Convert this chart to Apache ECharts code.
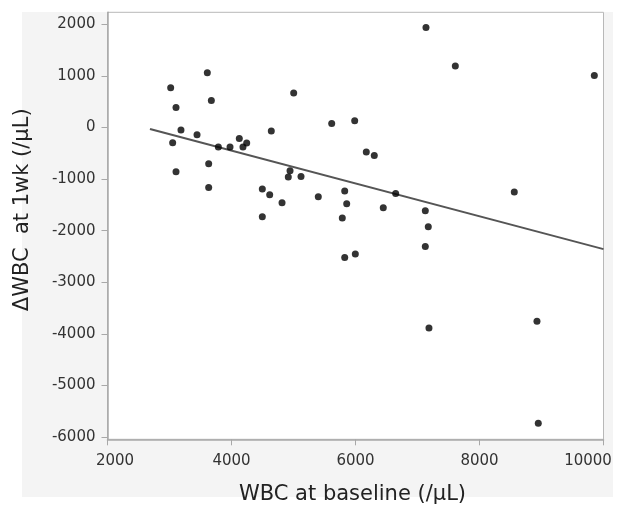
<!DOCTYPE html>
<html>
<head>
<meta charset="utf-8">
<script src="https://cdn.jsdelivr.net/npm/echarts@6/dist/echarts.min.js"></script>
<style>
html,body{margin:0;padding:0;background:#fff;}
#chart{width:617px;height:506px;}
</style>
</head>
<body>
<div id="chart"></div>
<script>
// Data
var wbcBaseline = [3019, 3105, 3185, 3051, 3105, 3610, 3675, 3444, 3632, 3632,
  3788, 3976, 4126, 4185, 4245, 4642, 5003, 4497, 4616, 4815,
  4497, 4944, 4916, 5121, 5400, 5616, 5987, 5826, 5858, 5787,
  5826, 5997, 7137, 7610, 9852, 6174, 6303, 6648, 6448, 7126,
  7174, 7126, 8561, 7185, 8927, 8948];
var deltaWbc = [769, 388, -50, -296, -858, 1060, 523, -141, -703, -1163,
  -380, -380, -213, -380, -302, -70, 667, -1194, -1304, -1459,
  -1731, -839, -961, -950, -1343, 78, 130, -1233, -1479, -1756,
  -2519, -2453, 1938, 1190, 1008, -477, -543, -1279, -1556, -1614,
  -1924, -2306, -1252, -3882, -3752, -5729];
var fitX = [2685, 10000];
var fitY = [-30, -2357];
var xTicks = [2000, 4000, 6000, 8000, 10000];
var yTicks = [-6000, -5000, -4000, -3000, -2000, -1000, 0, 1000, 2000];
var xTitle = 'WBC at baseline (/μL)';
var yTitle = 'ΔWBC  at 1wk (/μL)';

var points = wbcBaseline.map(function (x, i) { return [x, deltaWbc[i]]; });
var fitLine = fitX.map(function (x, i) { return [x, fitY[i]]; });
function plain(v) { return String(v); }
function xLabel(v) {
  if (v === xTicks[0]) return '{first|' + v + '}';
  if (v === xTicks[xTicks.length - 1]) return '{last|' + v + '}';
  return String(v);
}

var font = 'DejaVu Sans';
var chart = echarts.init(document.getElementById('chart'), null, {renderer: 'canvas'});
chart.setOption({
  animation: false,
  backgroundColor: '#fff',
  graphic: [{
    type: 'rect', z: -10, silent: true,
    shape: {x: 22, y: 12, width: 591, height: 485},
    style: {fill: '#f4f4f4'}
  }],
  grid: {
    left: 107.5, right: 13.5, top: 12.3, bottom: 66.7,
    containLabel: false, outerBoundsMode: 'none',
    show: true, backgroundColor: '#fff', borderColor: '#b8b8b8', borderWidth: 1
  },
  xAxis: {
    type: 'value', min: 2000, max: 10000, interval: 2000,
    name: xTitle, nameLocation: 'middle', nameGap: 45,
    nameTextStyle: {fontFamily: font, fontSize: 21, color: '#222', padding: [0, 6, 0, 0]},
    axisLine: {show: true, onZero: false, lineStyle: {color: '#a8a8a8', width: 1.5}},
    axisTick: {show: true, inside: false, length: 6, lineStyle: {color: '#a8a8a8'}},
    axisLabel: {fontFamily: font, fontSize: 15, color: '#333', margin: 14,
      customValues: xTicks, formatter: xLabel, overflow: 'none', hideOverlap: false,
      rich: {
        first: {fontFamily: font, fontSize: 15, color: '#333', padding: [0, 0, 0, 15]},
        last: {fontFamily: font, fontSize: 15, color: '#333', padding: [0, 31, 0, 0]}
      }},
    splitLine: {show: false}
  },
  yAxis: {
    type: 'value', min: -6040, max: 2230,
    name: yTitle, nameLocation: 'middle', nameGap: 74, nameRotate: 90,
    nameTextStyle: {fontFamily: font, fontSize: 21, color: '#222', padding: [0, 0, 0, 32]},
    axisLine: {show: true, onZero: false, lineStyle: {color: '#a8a8a8', width: 1.5}},
    axisTick: {show: true, inside: false, length: 6, lineStyle: {color: '#a8a8a8'},
      customValues: yTicks},
    axisLabel: {fontFamily: font, fontSize: 15, color: '#333', margin: 12,
      customValues: yTicks, formatter: plain},
    splitLine: {show: false}
  },
  series: [{
    type: 'line', data: fitLine, showSymbol: false, symbol: 'none',
    lineStyle: {color: '#555', width: 2}, z: 2, silent: true
  }, {
    type: 'scatter', data: points, symbolSize: 7,
    itemStyle: {color: '#000'}, z: 3
  }]
});
</script>
</body>
</html>
